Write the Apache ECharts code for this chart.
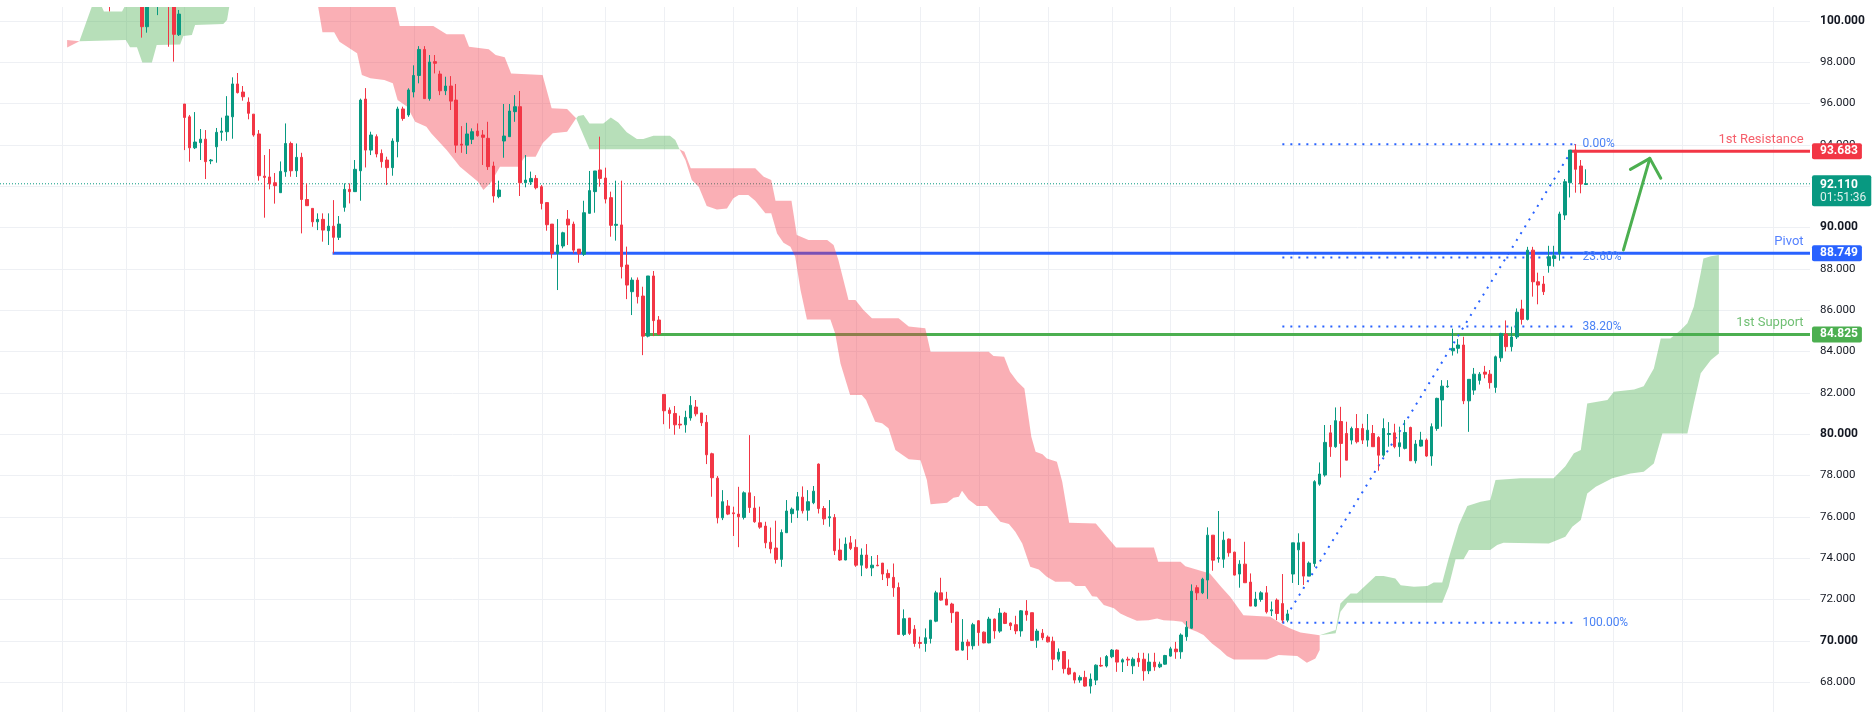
<!DOCTYPE html>
<html>
<head>
<meta charset="utf-8">
<script src="https://cdn.jsdelivr.net/npm/echarts@6/dist/echarts.min.js"></script>
<style>
html, body { margin: 0; padding: 0; background: #fff; }
#chart { width: 1874px; height: 714px; }
</style>
</head>
<body>
<div id="chart"></div>
<script>
// Candle rows are [open, high, low, close]; bar index = start + position
const earlyStart = 21;
const earlyBars = [[101.2, 101.4, 100.45, 100.9]];

const topStart = 27;
const topBars = [
  [101.3, 101.5, 99.18, 99.71], [99.71, 101.3, 99.42, 101.0], null,
  [100.8, 101.5, 100.27, 101.2], null, [101.4, 101.8, 98.74, 101.0],
  [101.0, 101.2, 98.02, 99.34], [99.32, 100.52, 99.26, 100.32]
];

const leg1Start = 35;
const leg1Bars = [
  [95.97, 95.97, 93.74, 95.32], [95.35, 95.44, 93.18, 93.85], [93.85, 95.58, 93.79, 94.13],
  [94.10, 94.76, 93.26, 94.27], [94.27, 94.71, 92.34, 93.18], [93.22, 93.31, 93.06, 93.26],
  [93.90, 94.81, 93.13, 94.60], [94.60, 95.31, 94.19, 94.66], [94.63, 96.35, 94.19, 95.39],
  [95.35, 97.26, 94.29, 96.94], [96.94, 97.47, 96.48, 96.52], [96.55, 96.84, 96.13, 96.32],
  [96.06, 96.29, 95.23, 95.52], [95.48, 95.48, 94.39, 94.47], [94.52, 94.71, 92.26, 92.50],
  [92.48, 93.50, 90.47, 92.42], [92.44, 93.79, 91.84, 92.11], [92.16, 92.63, 91.15, 92.02],
  [91.68, 93.19, 91.68, 92.71], [92.69, 95.03, 92.45, 94.06], [94.06, 94.15, 92.45, 92.74],
  [92.74, 94.06, 92.44, 93.39], [93.39, 93.61, 89.71, 91.35], [91.35, 92.13, 91.05, 91.05],
  [90.92, 90.92, 90.03, 90.27], [90.27, 90.68, 89.87, 90.39], [90.39, 90.68, 89.31, 89.87],
  [89.84, 90.68, 89.15, 90.06], [90.06, 91.32, 88.74, 89.52], [89.52, 90.55, 89.39, 90.16],
  [90.97, 92.13, 90.76, 91.84], [91.84, 92.13, 91.16, 91.73], [91.73, 93.26, 91.73, 92.81],
  [92.74, 96.23, 91.29, 96.16], [96.21, 96.74, 92.90, 93.74], [93.74, 94.63, 93.50, 94.47],
  [94.39, 94.50, 93.39, 93.55], [93.58, 93.77, 92.89, 93.18], [93.26, 93.42, 92.05, 92.89],
  [92.89, 94.31, 92.50, 94.18], [94.15, 95.84, 93.39, 95.73], [95.73, 95.84, 95.16, 95.27],
  [95.44, 96.73, 95.35, 96.65], [96.55, 97.84, 96.29, 97.35], [97.35, 98.77, 96.97, 98.61],
  [98.61, 98.77, 96.23, 96.23], [96.23, 98.34, 96.13, 98.00], [98.02, 98.34, 97.45, 97.94],
  [97.42, 97.58, 96.40, 96.61], [96.61, 97.29, 96.40, 96.84], [96.84, 97.32, 95.68, 96.11],
  [96.16, 96.94, 93.61, 93.98], [94.03, 94.90, 93.61, 93.98], [93.98, 95.06, 93.55, 94.52],
  [94.26, 94.79, 94.03, 94.63], [94.66, 95.03, 94.39, 94.44], [94.47, 94.71, 93.02, 94.36],
  [94.31, 95.11, 92.78, 92.94], [92.97, 93.18, 91.20, 91.52], [91.49, 92.26, 91.41, 91.81],
  [94.18, 95.97, 93.37, 94.42], [94.39, 95.97, 94.39, 95.63], [95.60, 96.40, 95.11, 95.84],
  [95.84, 96.60, 91.52, 92.16], [92.16, 93.50, 91.94, 92.29], [92.20, 92.70, 92.05, 92.37],
  [92.37, 92.53, 91.84, 91.92], [91.97, 92.05, 90.87, 91.16], [91.20, 91.20, 89.84, 90.13],
  [90.16, 90.16, 88.50, 88.74], [88.74, 90.40, 86.97, 89.15], [89.10, 89.79, 88.99, 89.74],
  [90.40, 90.84, 89.15, 90.12], [90.16, 90.28, 88.74, 88.90], [88.95, 88.95, 88.29, 88.74],
  [88.70, 91.29, 88.62, 90.71], [90.68, 92.73, 90.68, 91.78], [91.73, 92.73, 90.71, 92.73],
  [92.78, 94.39, 91.97, 92.37], [92.39, 92.89, 91.16, 91.37], [91.44, 91.73, 89.55, 90.10],
  [90.10, 92.26, 89.36, 90.15], [90.12, 92.26, 87.53, 88.10], [88.18, 89.07, 86.53, 87.21],
  [86.89, 87.58, 85.76, 87.45], [87.45, 87.58, 86.32, 86.65], [86.68, 87.13, 83.82, 84.74],
  [84.74, 87.65, 84.68, 87.65], [87.65, 87.89, 84.74, 85.49], [85.52, 85.71, 84.79, 84.84]
];

const leg2Start = 125;
const leg2Bars = [
  [81.92, 81.92, 80.48, 81.13], [81.16, 81.29, 80.26, 81.00], [81.00, 81.36, 79.97, 80.45],
  [80.48, 80.89, 80.26, 80.44], [80.45, 81.13, 80.07, 80.81], [80.78, 81.84, 80.65, 81.39],
  [81.31, 81.65, 80.86, 80.98], [81.02, 81.02, 80.39, 80.55], [80.57, 80.92, 78.55, 79.00],
  [79.05, 79.10, 76.97, 77.89], [77.87, 77.97, 75.68, 75.95], [75.95, 77.29, 75.84, 76.73],
  [76.52, 76.81, 76.08, 76.13], [76.19, 76.49, 75.07, 76.15], [76.13, 77.45, 74.53, 76.00],
  [75.97, 77.23, 75.87, 77.16], [77.16, 79.95, 76.19, 76.45], [76.42, 77.00, 75.71, 75.76],
  [75.71, 76.49, 75.42, 75.50], [75.55, 75.76, 74.48, 74.74], [74.77, 75.48, 74.23, 74.45],
  [74.49, 75.81, 73.74, 73.94], [73.94, 75.39, 73.58, 75.24], [75.23, 76.81, 75.23, 76.28],
  [76.15, 76.45, 75.71, 76.37], [76.32, 77.20, 75.94, 76.97], [76.95, 77.47, 76.16, 76.29],
  [76.32, 77.29, 75.81, 76.73], [76.68, 77.49, 76.61, 77.24], [78.55, 78.58, 76.16, 76.40],
  [76.40, 76.52, 75.61, 75.90], [75.95, 76.81, 75.52, 76.00], [75.97, 76.13, 74.15, 74.36],
  [74.39, 74.95, 73.87, 73.91], [73.91, 75.00, 73.90, 74.68], [74.74, 75.07, 74.39, 74.47],
  [74.52, 74.91, 73.58, 73.66], [73.66, 74.47, 73.13, 74.15], [74.15, 74.68, 73.49, 73.53],
  [73.53, 74.10, 73.13, 73.66], [73.66, 74.15, 73.61, 73.63], [73.76, 73.76, 72.94, 73.23],
  [73.26, 73.45, 72.65, 73.05], [73.07, 73.74, 72.13, 72.57], [72.58, 72.82, 70.31, 70.31],
  [70.31, 71.52, 70.23, 71.07], [71.10, 71.10, 70.28, 70.36], [70.56, 70.76, 69.71, 69.87],
  [69.92, 70.20, 69.63, 69.87], [69.87, 70.60, 69.47, 70.15], [70.11, 71.00, 69.87, 71.00],
  [70.95, 72.42, 70.90, 72.32], [72.32, 73.05, 71.94, 71.97], [72.02, 72.37, 71.73, 71.73],
  [71.78, 71.84, 70.87, 71.36], [71.39, 71.39, 69.52, 69.55], [69.55, 71.05, 69.52, 69.94],
  [69.94, 70.07, 69.07, 69.76], [69.76, 70.87, 69.58, 70.78], [70.97, 71.00, 69.76, 70.40],
  [70.42, 70.45, 69.88, 69.90], [69.90, 71.16, 69.88, 71.05], [71.05, 71.08, 70.10, 70.48],
  [70.47, 71.58, 70.39, 71.34], [71.34, 71.40, 70.81, 70.84], [70.86, 70.89, 70.52, 70.73],
  [70.78, 71.21, 70.32, 70.48], [70.48, 71.49, 70.20, 71.45], [71.44, 71.97, 70.97, 71.26],
  [71.36, 71.36, 69.99, 70.02], [70.03, 70.58, 69.66, 70.47], [70.37, 70.57, 70.03, 70.15],
  [70.18, 70.26, 69.92, 69.95], [69.98, 70.20, 68.58, 69.11], [69.11, 69.63, 69.00, 69.45],
  [69.48, 69.48, 68.42, 68.65], [68.68, 69.10, 68.34, 68.39], [68.45, 68.50, 67.94, 68.10],
  [68.10, 68.33, 67.97, 68.23], [68.23, 68.55, 67.78, 67.81], [67.81, 68.42, 67.45, 68.15],
  [68.10, 68.86, 67.86, 68.82], [68.81, 69.20, 68.74, 68.78], [68.78, 69.31, 68.71, 69.24],
  [69.23, 69.60, 69.16, 69.55], [69.55, 69.58, 68.50, 68.97], [68.97, 69.15, 68.49, 69.08],
  [69.11, 69.23, 68.78, 69.07], [68.79, 69.20, 68.39, 69.11], [69.15, 69.42, 68.74, 68.98],
  [69.11, 69.42, 68.07, 68.55], [68.55, 69.39, 68.39, 68.97], [68.97, 69.42, 68.55, 68.74],
  [68.74, 68.99, 68.68, 68.87], [68.87, 69.32, 68.84, 69.29], [69.26, 69.71, 69.23, 69.61],
  [69.60, 69.95, 69.13, 69.47], [69.47, 70.36, 69.13, 70.28], [70.20, 70.95, 70.00, 70.66],
  [70.61, 72.73, 70.58, 72.40], [72.57, 72.69, 71.97, 72.32], [72.32, 73.05, 72.26, 72.98],
  [72.94, 75.49, 72.03, 75.11], [75.11, 75.11, 73.39, 73.90], [73.97, 76.28, 73.78, 74.02],
  [73.95, 75.28, 73.53, 74.87], [74.92, 74.95, 74.07, 74.26], [74.29, 74.31, 73.16, 73.18],
  [73.23, 73.90, 72.57, 73.71], [73.71, 74.79, 72.81, 72.81], [72.84, 73.26, 71.68, 71.68],
  [71.68, 72.37, 71.65, 72.02]
];

const leg3Start = 237;
const leg3Bars = [
  [72.00, 72.40, 71.89, 72.32], [72.32, 72.65, 71.32, 71.40], [71.45, 71.90, 71.20, 71.50],
  [71.97, 72.05, 71.00, 71.32], [71.80, 73.23, 70.87, 71.00], [71.00, 71.50, 70.90, 71.30],
  [73.23, 74.74, 72.80, 74.74], [74.40, 75.20, 72.70, 74.74], [74.77, 74.77, 72.70, 73.13],
  [73.13, 73.84, 73.13, 73.76], [73.74, 77.77, 73.58, 77.70], [77.58, 78.63, 77.50, 78.07],
  [78.02, 80.44, 77.94, 79.60], [80.06, 80.44, 78.90, 79.39], [79.39, 81.29, 79.34, 80.65],
  [80.61, 81.32, 77.90, 79.55], [80.03, 80.60, 78.74, 78.74], [79.71, 80.36, 79.50, 80.27],
  [80.27, 80.97, 79.55, 79.63], [80.27, 80.50, 79.52, 79.71], [79.71, 80.97, 79.39, 80.19],
  [80.03, 80.44, 79.39, 79.39], [79.84, 79.90, 78.23, 78.98], [78.98, 80.76, 78.90, 80.27],
  [79.98, 80.58, 79.39, 80.03], [80.06, 80.50, 79.31, 79.39], [79.39, 80.36, 78.90, 79.58],
  [79.31, 80.68, 79.26, 80.08], [80.32, 80.36, 78.71, 78.71], [78.71, 79.71, 78.58, 79.52],
  [79.42, 80.11, 79.39, 79.71], [79.71, 79.79, 78.90, 78.94], [78.94, 80.52, 78.47, 80.36],
  [80.27, 81.76, 80.16, 81.73], [81.65, 82.61, 80.36, 82.32], [82.29, 82.61, 82.24, 82.32],
  [84.03, 85.10, 83.80, 84.15], [84.15, 84.60, 83.90, 84.31], [84.31, 84.71, 81.45, 81.61],
  [81.61, 82.65, 80.11, 82.65], [82.13, 83.20, 81.90, 82.90], [82.60, 83.00, 82.40, 82.90],
  [83.00, 83.30, 82.70, 82.90], [82.90, 83.10, 82.20, 82.49], [82.26, 83.80, 82.00, 83.74],
  [83.69, 84.90, 83.50, 84.87], [84.84, 85.50, 84.00, 84.23], [84.23, 85.20, 84.00, 84.70],
  [84.70, 86.08, 84.60, 85.90], [86.05, 86.50, 85.30, 85.55], [85.55, 89.06, 85.50, 88.90],
  [88.90, 89.06, 86.65, 87.37], [87.37, 87.81, 86.28, 87.21], [87.26, 87.65, 86.73, 86.89],
  [88.15, 89.11, 87.81, 88.58], [88.50, 89.11, 88.10, 88.63], [88.74, 90.76, 88.39, 90.65],
  [90.60, 92.34, 90.36, 92.21], [92.16, 93.74, 91.45, 93.74], [93.74, 94.02, 91.68, 92.81],
  [92.97, 93.26, 91.65, 92.10], [92.08, 92.81, 92.05, 92.11]
];

// Ichimoku cloud edges: [bar index, price]
const cloudRedATop = [[13.0, 99.07], [15.3, 99.0]];
const cloudRedABot = [[13.0, 98.70], [15.3, 99.0]];
const cloudGreenBTop = [[15.3, 99.0], [17.6, 100.66], [18.6, 101.2], [19.9, 100.45], [23.3, 100.45], [24.0, 100.8], [26.0, 101.5], [43.6, 101.5]];
const cloudGreenBBot = [[15.3, 99.0], [24.0, 99.07], [24.8, 98.71], [26.1, 98.71], [27.1, 97.98], [28.9, 97.98], [29.8, 98.82], [34.2, 98.85], [34.8, 99.26], [36.4, 99.31], [37.0, 99.79], [42.3, 99.84], [43.0, 100.03], [43.4, 100.65], [43.6, 101.5]];
const cloudRedCTop = [[60.1, 101.5], [74.1, 101.5], [74.6, 100.66], [75.4, 99.74], [81.7, 99.74], [84.2, 99.34], [87.5, 99.34], [88.4, 98.74], [92.1, 98.62], [93.4, 98.34], [95.1, 98.23], [96.3, 97.45], [102.2, 97.37], [103.9, 95.76], [106.8, 95.73], [108.5, 95.28]];
const cloudRedCBot = [[60.1, 100.66], [60.9, 99.44], [63.1, 99.44], [64.1, 98.98], [67.4, 98.42], [68.3, 97.37], [69.9, 97.21], [72.5, 97.13], [74.1, 96.97], [75.0, 96.16], [76.8, 95.84], [78.3, 95.11], [80.4, 94.87], [81.3, 94.55], [84.2, 93.74], [86.7, 92.94], [90.1, 92.21], [91.1, 91.81], [92.6, 92.21], [94.2, 92.94], [97.6, 92.94], [98.9, 93.42], [100.9, 93.42], [102.2, 94.07], [104.1, 94.55], [106.8, 94.63], [108.5, 95.28]];
const cloudGreenDTop = [[108.5, 95.28], [108.9, 95.39], [109.9, 95.44], [111.0, 95.03], [113.6, 95.03], [115.0, 95.32], [116.4, 95.07], [118.0, 94.60], [119.9, 94.28], [121.1, 94.28], [123.0, 94.44], [126.1, 94.44], [127.1, 94.23], [127.9, 93.78]];
const cloudGreenDBot = [[108.5, 95.28], [111.0, 93.78], [127.9, 93.78]];
const cloudRedETop = [[127.9, 93.78], [128.8, 93.66], [130.0, 92.86], [142.1, 92.86], [143.7, 92.45], [145.1, 92.29], [145.9, 91.29], [148.9, 91.29], [149.9, 89.63], [152.1, 89.39], [155.6, 89.39], [156.8, 89.15], [157.7, 88.42], [159.6, 86.49], [160.9, 86.49], [162.4, 86.0], [164.0, 85.6], [169.0, 85.6], [170.9, 85.2], [174.0, 85.12], [175.0, 83.99], [185.9, 83.99], [186.8, 83.78], [188.8, 83.74], [189.9, 83.02], [191.3, 82.53], [192.6, 82.21], [193.9, 79.87], [194.7, 79.15], [196.0, 79.03], [196.8, 78.82], [198.7, 78.66], [199.7, 77.70], [201.0, 75.71], [206.0, 75.68], [208.1, 75.03], [209.8, 74.52], [216.9, 74.52], [217.7, 73.82], [221.9, 73.82], [222.8, 73.61], [227.4, 73.26], [229.5, 72.61], [231.2, 72.13], [233.7, 71.24], [238.7, 71.16], [241.2, 70.76], [242.5, 70.6], [244.4, 70.4], [248.0, 70.27]];
const cloudRedEBot = [[127.9, 93.78], [129.0, 93.26], [130.2, 92.29], [131.5, 91.97], [133.0, 91.03], [134.9, 90.87], [136.8, 90.92], [138.0, 91.41], [139.0, 91.57], [140.8, 91.57], [142.1, 91.29], [144.0, 90.68], [145.1, 90.68], [146.2, 89.71], [147.4, 89.26], [148.7, 89.07], [149.6, 88.58], [150.6, 86.97], [151.8, 85.55], [156.2, 85.55], [157.1, 84.87], [158.1, 83.42], [159.9, 81.89], [162.1, 81.89], [162.9, 81.65], [164.6, 80.60], [165.9, 80.52], [167.1, 80.28], [168.4, 79.23], [170.9, 78.78], [173.1, 78.74], [174.3, 77.78], [175.0, 76.61], [178.1, 76.68], [179.3, 76.92], [180.3, 76.97], [180.9, 77.26], [182.1, 76.84], [183.7, 76.52], [185.6, 76.52], [186.5, 76.24], [188.1, 75.76], [189.7, 75.65], [190.9, 75.28], [192.2, 74.71], [193.7, 73.58], [195.3, 73.45], [196.8, 73.10], [198.4, 72.86], [201.2, 72.86], [202.2, 72.65], [204.0, 72.65], [205.3, 72.16], [206.2, 72.13], [207.5, 71.73], [209.4, 71.57], [210.6, 71.32], [211.9, 71.16], [213.7, 70.97], [215.9, 71.00], [217.5, 71.08], [218.7, 71.00], [220.6, 70.97], [222.2, 70.92], [223.4, 70.60], [225.0, 70.44], [226.2, 70.28], [227.8, 69.87], [229.4, 69.55], [230.6, 69.26], [231.9, 69.10], [238.1, 69.10], [240.3, 69.31], [243.8, 69.26], [245.6, 68.94], [247.2, 69.15], [248.0, 69.55], [248.0, 70.27]];
const cloudGreenFTop = [[248.0, 70.27], [251.0, 70.52], [251.9, 71.81], [253.8, 72.29], [255.0, 72.29], [258.5, 73.13], [260.0, 73.13], [262.2, 73.02], [263.2, 72.69], [265.7, 72.61], [268.2, 72.65], [269.4, 72.82], [271.0, 72.82], [272.2, 73.98], [274.1, 75.60], [275.7, 76.52], [278.2, 76.73], [280.0, 76.81], [281.0, 77.78], [285.7, 77.86], [291.9, 77.86], [294.1, 78.45], [295.7, 79.07], [297.0, 79.23], [298.2, 81.48], [302.0, 81.65], [303.2, 82.05], [307.0, 82.16], [308.8, 82.32], [310.7, 83.18], [312.0, 84.63], [313.8, 84.63], [315.7, 85.03], [317.0, 85.36], [318.2, 86.16], [319.5, 87.80], [320.0, 88.50], [321.4, 88.61], [322.9, 88.66]];
const cloudGreenFBot = [[248.0, 70.27], [251.0, 70.36], [251.9, 71.40], [253.2, 71.84], [271.0, 71.84], [272.2, 72.61], [273.5, 73.94], [275.0, 73.94], [276.0, 74.39], [280.0, 74.39], [281.3, 74.63], [282.5, 74.74], [291.0, 74.71], [294.1, 75.03], [295.4, 75.52], [297.0, 75.84], [298.2, 77.13], [299.8, 77.45], [302.9, 77.86], [306.3, 78.10], [308.8, 78.18], [310.7, 78.58], [312.3, 80.03], [317.0, 80.03], [318.2, 81.48], [319.5, 82.94], [321.4, 83.58], [322.9, 83.90]];

// Session separators (bar index of vertical grid lines) and price ticks
const dayBreaks = [12, 24, 35, 48, 66, 78, 90, 102, 114, 125, 138, 150, 161, 173, 184, 197, 209, 220, 232, 243, 256, 268, 280, 292, 303, 316, 333];
const priceTicks = [68, 70, 72, 74, 76, 78, 80, 82, 84, 86, 88, 90, 92, 94, 96, 98, 100];

// Horizontal levels
const levelNames = ['1st Resistance', 'Pivot', '1st Support'];
const levelPrices = [93.683, 88.749, 84.825];
const levelStarts = [295, 62.8, 120.7];
const levelColors = ['#f23645', '#2962ff', '#4caf50'];

// Fibonacci retracement
const fibLabels = ['0.00%', '23.60%', '38.20%', '100.00%'];
const fibPrices = [94.02, 88.55, 85.20, 70.87];
const fibFrom = 241;
const fibTo = 296;

const lastPrice = 92.110;
const countdown = '01:51:36';
const arrowShaft = [[305.0, 88.91], [309.95, 93.34]];
const arrowHead = [[306.3, 92.81], [309.95, 93.34], [312.0, 92.38]];

const FONT = 'Roboto, "Liberation Sans", sans-serif';
const upColor = '#089981';
const downColor = '#f23645';
const gridColor = '#eef0f4';
const X_MIN = 0.4, X_MAX = 340;

// Building candle data for echarts: [index, open, close, low, high]
const candles = [];
function addBars(start, rows) {
    rows.forEach((r, k) => {
        if (r) candles.push([start + k, r[0], r[3], r[2], r[1]]);
    });
}
addBars(earlyStart, earlyBars);
addBars(topStart, topBars);
addBars(leg1Start, leg1Bars);
addBars(leg2Start, leg2Bars);
addBars(leg3Start, leg3Bars);

const cloudRed = 'rgba(242, 54, 69, 0.4)';
const cloudGreen = 'rgba(76, 175, 80, 0.4)';
const clouds = [
    { top: cloudRedATop, bot: cloudRedABot, color: cloudRed },
    { top: cloudGreenBTop, bot: cloudGreenBBot, color: cloudGreen },
    { top: cloudRedCTop, bot: cloudRedCBot, color: cloudRed },
    { top: cloudGreenDTop, bot: cloudGreenDBot, color: cloudGreen },
    { top: cloudRedETop, bot: cloudRedEBot, color: cloudRed },
    { top: cloudGreenFTop, bot: cloudGreenFBot, color: cloudGreen }
];

const chart = echarts.init(document.getElementById('chart'));
const series = [];

// grid lines (vertical session lines + horizontal price lines)
series.push({
    type: 'custom',
    silent: true,
    z: 0,
    data: dayBreaks.map(v => [v, 80, 0]).concat(priceTicks.map(p => [X_MIN, p, 1])),
    encode: { x: 0, y: 1 },
    renderItem: function (params, api) {
        if (api.value(2) === 0) {
            const x = Math.round(api.coord([api.value(0), 80])[0]) + 0.5;
            return { type: 'line', shape: { x1: x, y1: 7, x2: x, y2: 712 }, style: { stroke: gridColor, lineWidth: 1 } };
        }
        const a = api.coord([X_MIN, api.value(1)]);
        const b = api.coord([X_MAX, api.value(1)]);
        const y = Math.round(a[1]) + 0.5;
        return { type: 'line', shape: { x1: a[0], y1: y, x2: b[0], y2: y }, style: { stroke: gridColor, lineWidth: 1 } };
    }
});

// last price dotted line
series.push({
    type: 'line',
    silent: true,
    z: 1,
    symbol: 'none',
    data: [[X_MIN, lastPrice], [X_MAX, lastPrice]],
    lineStyle: { color: upColor, width: 1, type: [1, 2] },
    endLabel: {
        show: true,
        distance: 2,
        offset: [0, 7],
        backgroundColor: upColor,
        padding: [3, 5, 2, 8],
        borderRadius: 2,
        formatter: '{a|' + lastPrice.toFixed(3) + '}\n{b|' + countdown + '}',
        rich: {
            a: { color: '#fff', fontSize: 12, fontFamily: FONT, lineHeight: 13, fontWeight: 'bold' },
            b: { color: '#e0f2ee', fontSize: 12, fontFamily: FONT, lineHeight: 13 }
        }
    }
});

// support / pivot / resistance
levelNames.forEach((name, k) => {
    series.push({
        type: 'line',
        silent: true,
        z: 2,
        symbol: 'none',
        data: [[levelStarts[k], levelPrices[k]], [X_MAX, levelPrices[k]]],
        lineStyle: { color: levelColors[k], width: 3 },
        endLabel: {
            show: true,
            distance: 2,
            formatter: levelPrices[k].toFixed(3),
            color: '#fff',
            fontSize: 12,
            fontWeight: 'bold',
            fontFamily: FONT,
            backgroundColor: levelColors[k],
            padding: [2, 4, 2, 8],
            borderRadius: 2
        }
    });
    series.push({
        type: 'scatter',
        silent: true,
        z: 7,
        symbolSize: 1,
        itemStyle: { color: 'transparent' },
        data: [[338.8, levelPrices[k]]],
        label: {
            show: true,
            position: 'top',
            distance: 5,
            align: 'right',
            formatter: name,
            color: levelColors[k],
            fontSize: 13,
            fontFamily: FONT
        }
    });
});

// ichimoku cloud
series.push({
    type: 'custom',
    silent: true,
    z: 3,
    data: clouds.map(c => [c.top[0][0], c.top[0][1]]),
    encode: { x: 0, y: 1 },
    renderItem: function (params, api) {
        const c = clouds[params.dataIndex];
        const pts = c.top.map(p => api.coord(p)).concat(c.bot.slice().reverse().map(p => api.coord(p)));
        return { type: 'polygon', shape: { points: pts }, style: { fill: c.color } };
    }
});

// fibonacci levels
fibLabels.forEach((lab, k) => {
    series.push({
        type: 'line',
        silent: true,
        z: 4,
        symbol: 'none',
        data: [[fibFrom, fibPrices[k]], [fibTo, fibPrices[k]]],
        lineStyle: { color: '#2962ff', width: 2, type: [2, 6] },
        endLabel: { show: true, formatter: lab, distance: 7, color: '#4a82f5', fontSize: 12, fontFamily: FONT }
    });
});
series.push({
    type: 'line',
    silent: true,
    z: 4,
    symbol: 'none',
    data: [[fibFrom, fibPrices[3]], [fibTo, fibPrices[0]]],
    lineStyle: { color: '#2962ff', width: 2, type: [2, 6] }
});

// candles
series.push({
    type: 'candlestick',
    z: 5,
    silent: true,
    barWidth: 3,
    dimensions: ['idx', 'open', 'close', 'lowest', 'highest'],
    encode: { x: 'idx', y: ['open', 'close', 'lowest', 'highest'] },
    data: candles,
    itemStyle: {
        color: upColor,
        color0: downColor,
        borderColor: upColor,
        borderColor0: downColor,
        borderWidth: 1
    }
});

// green arrow
[arrowShaft, arrowHead].forEach(pts => {
    series.push({
        type: 'line',
        silent: true,
        z: 6,
        symbol: 'none',
        data: pts,
        lineStyle: { color: '#4caf50', width: 3, cap: 'round', join: 'round' }
    });
});

const option = {
    backgroundColor: '#ffffff',
    animation: false,
    grid: { left: 0, right: 64, top: 7, bottom: 2 },
    xAxis: {
        type: 'value',
        min: X_MIN,
        max: X_MAX,
        show: false
    },
    yAxis: {
        type: 'value',
        position: 'right',
        min: 66.556,
        max: 100.663,
        axisLine: { show: false },
        axisTick: { show: false, customValues: priceTicks },
        splitLine: { show: false },
        axisLabel: {
            customValues: priceTicks,
            margin: 10,
            color: '#131722',
            fontSize: 11.5,
            fontFamily: FONT,
            formatter: function (v) {
                return v % 10 === 0 ? '{b|' + v.toFixed(3) + '}' : v.toFixed(3);
            },
            rich: { b: { fontSize: 12, fontWeight: 'bold', color: '#131722', fontFamily: FONT } }
        }
    },
    graphic: [{
        type: 'rect',
        z: 100,
        shape: { x: 0, y: 0, width: 1874, height: 7 },
        style: { fill: '#ffffff' }
    }],
    series: series
};
chart.setOption(option);
</script>
</body>
</html>
